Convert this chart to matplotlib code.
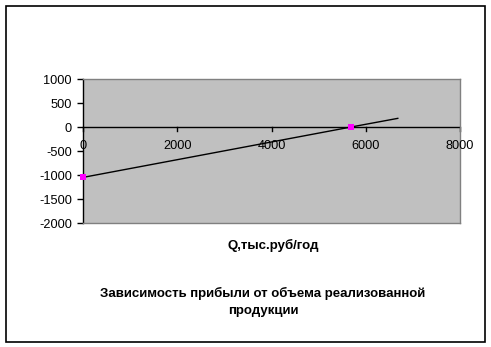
import matplotlib
matplotlib.use("Agg")
import matplotlib.pyplot as plt
from matplotlib.patches import Rectangle

plt.rcParams['font.family'] = ['Liberation Sans', 'DejaVu Sans']
plt.rcParams['axes.unicode_minus'] = False

# Data
q_line = [0, 5690, 6680]
profit_line = [-1050, 0, 180]
q_points = [0, 5690]
profit_points = [-1050, 0]
x_ticks = [0, 2000, 4000, 6000, 8000]
y_ticks = [1000, 500, 0, -500, -1000, -1500, -2000]
x_label = "Q,тыс.руб/год"
chart_title = "Зависимость прибыли от объема реализованной\nпродукции"

W, H = 491, 347
fig = plt.figure(figsize=(W / 100, H / 100), dpi=100)

# outer border
fig.patches.append(Rectangle((5.5 / W, 1 - 342 / H), (485 - 5.5) / W, (342 - 5.5) / H,
                             transform=fig.transFigure, fill=False, edgecolor='black',
                             linewidth=1.2))

ax = fig.add_axes([83 / W, 1 - 223 / H, (460 - 83) / W, (223 - 79) / H])
ax.set_facecolor('#C0C0C0')
ax.set_xlim(0, 8000)
ax.set_ylim(-2000, 1000)

for s in ['top', 'right', 'bottom']:
    ax.spines[s].set_color('#808080')
    ax.spines[s].set_linewidth(1.0)
ax.spines['left'].set_color('black')
ax.spines['left'].set_linewidth(1.0)

# x axis through y=0
ax.axhline(0, color='black', linewidth=1.0, zorder=2)

ax.set_xticks(x_ticks)
ax.set_yticks(y_ticks)
ax.tick_params(axis='y', direction='out', length=4, width=1, pad=4, labelsize=9.2)
ax.tick_params(axis='x', length=0, pad=0, labelsize=9.2)
ax.set_xticklabels([])
for xv in x_ticks:
    ax.plot([xv, xv], [0, -80], color='black', linewidth=1.0, clip_on=False, zorder=2)
    ax.text(xv, -270, str(xv), ha='center', va='top', fontsize=9.2, zorder=3)

ax.plot(q_line, profit_line, color='black', linewidth=1.0, zorder=3)
ax.plot(q_points, profit_points, linestyle='none', marker='s', markersize=5,
        markeredgewidth=0, color='#FF00FF', clip_on=False, zorder=4)

fig.text(273 / W, 1 - 245 / H, x_label, ha='center', va='center', fontsize=9.5,
         fontweight='bold')
fig.text(263 / W, 1 - 302 / H, chart_title, ha='center', va='center', fontsize=9.5,
         fontweight='bold', linespacing=1.45)

fig.savefig('out.png', dpi=100)
